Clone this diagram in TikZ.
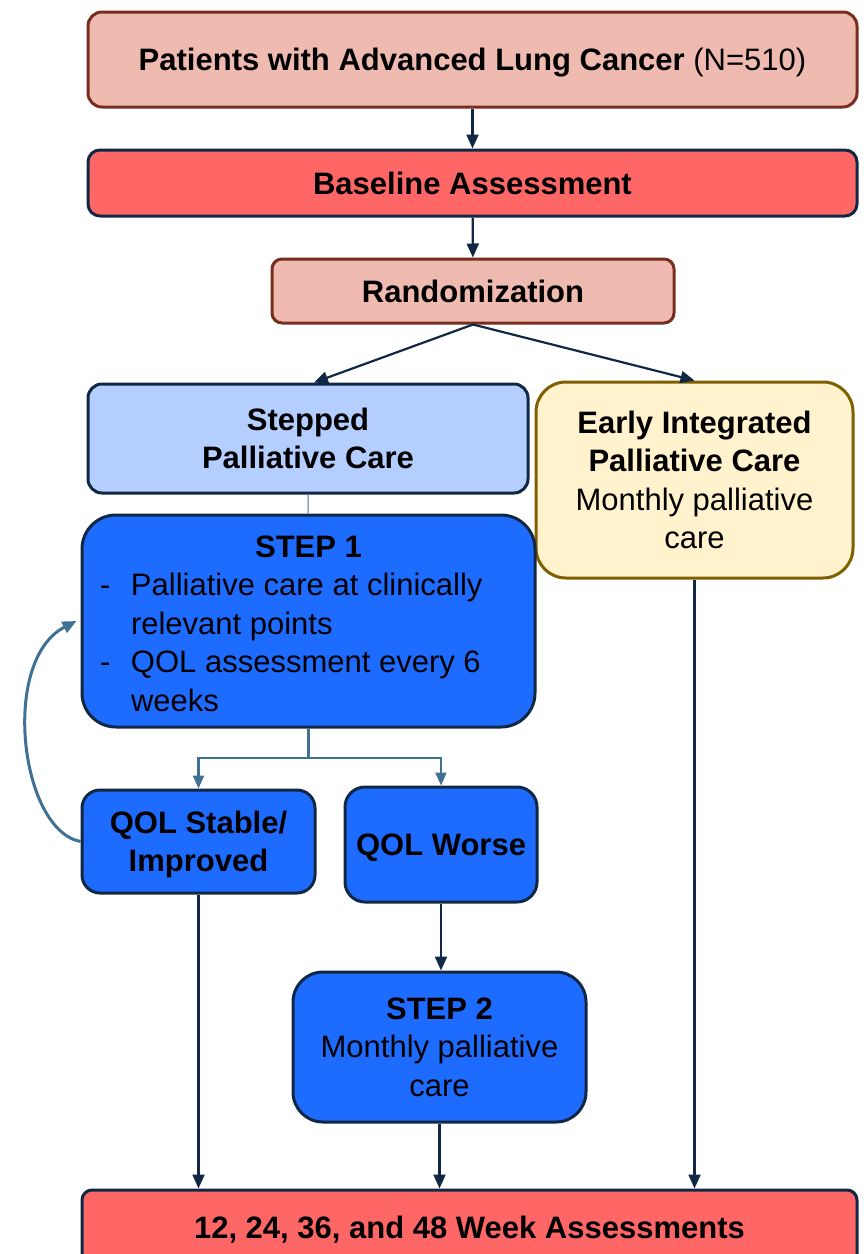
\documentclass[tikz,border=0pt]{standalone}
\usepackage{fontspec}
\setmainfont{Liberation Sans}
\usetikzlibrary{arrows.meta}
\definecolor{salmon}{RGB}{239,186,176}
\definecolor{brownline}{RGB}{120,45,30}
\definecolor{redfill}{RGB}{255,102,102}
\definecolor{navyline}{RGB}{16,40,68}
\definecolor{paleblue}{RGB}{179,206,255}
\definecolor{brightblue}{RGB}{30,107,255}
\definecolor{creamfill}{RGB}{255,242,204}
\definecolor{oliveline}{RGB}{127,96,0}
\definecolor{steelline}{RGB}{62,113,148}

\begin{document}
\begin{tikzpicture}[x=0.5pt, y=-0.5pt,
    box/.style={draw, line width=1.5pt, align=center, inner sep=0pt, text depth=0pt,
        font=\fontsize{15.5}{19.25}\selectfont},
    pinkbox/.style={box, fill=salmon, draw=brownline, rounded corners=7pt},
    redbox/.style={box, fill=redfill, draw=navyline, rounded corners=6pt},
    bluebox/.style={box, fill=brightblue, draw=navyline},
    arr/.style={-{Triangle[length=7pt,width=6pt]}, line width=1.1pt, draw=navyline},
    branch/.style={-{Triangle[length=6.5pt,width=5.5pt]}, line width=1.1pt, draw=steelline}]
    \clip (0,0) rectangle (866,1254);

    % Kopf
    \node[pinkbox, minimum width=384.5pt, minimum height=47.5pt] (patients) at (472.5,59.5)
        {\textbf{Patients with Advanced Lung Cancer} (N=510)};
    \node[redbox, minimum width=384.5pt, minimum height=33pt] (baseline) at (472.5,183)
        {\textbf{Baseline Assessment}};
    \node[pinkbox, rounded corners=5pt, minimum width=201pt, minimum height=32pt] (random) at (473,291)
        {\textbf{Randomization}};

    % Arme
    \node[box, fill=paleblue, draw=navyline, rounded corners=7pt,
        minimum width=220pt, minimum height=54.5pt] (stepped) at (308,438.5)
        {\textbf{Stepped}\\\textbf{Palliative Care}};
    \node[box, fill=creamfill, draw=oliveline, rounded corners=15pt,
        minimum width=158.5pt, minimum height=98pt] (early) at (694.5,480)
        {\textbf{Early Integrated}\\\textbf{Palliative Care}\\Monthly palliative\\care};

    % Stufen
    \node[bluebox, rounded corners=17pt, minimum width=226.5pt, minimum height=106pt] (step1) at (308.5,621)
        {\begin{tabular}[b]{@{}p{15.5pt}@{}p{193pt}@{}}
            \multicolumn{2}{c}{\bfseries STEP 1}\\
            - & Palliative care at clinically\\
              & relevant points\\
            - & QOL assessment every 6\\
              & weeks
        \end{tabular}};
    \node[bluebox, rounded corners=9pt, minimum width=116.5pt, minimum height=51.5pt] (stable) at (198.5,841.5)
        {\textbf{QOL Stable/}\\\textbf{Improved}};
    \node[bluebox, rounded corners=10pt, minimum width=96pt, minimum height=57.5pt] (worse) at (441,844.5)
        {\textbf{QOL Worse}};
    \node[bluebox, rounded corners=15pt, minimum width=146.5pt, minimum height=75pt] (step2) at (439.5,1047)
        {\textbf{STEP 2}\\Monthly palliative\\care};
    \node[redbox, rounded corners=5pt, minimum width=387.5pt, minimum height=37.5pt] (final) at (469.5,1227.5)
        {\textbf{12, 24, 36, and 48 Week Assessments}};

    % Pfeile
    \draw[arr] (patients) -- (baseline);
    \draw[arr] (baseline) -- (random);
    \draw[arr] (random.south) -- ([xshift=3pt]stepped.north);
    \draw[arr] (random.south) -- (early.north);
    \draw[steelline, line width=0.5pt] (stepped) -- (step1);

    \coordinate (split) at (308.5,758);
    \draw[branch] (step1.south) -- (split) -| (stable.north);
    \draw[branch] (split) -| (worse.north);
    \draw[arr] (worse.south) -- (worse.south |- step2.north);
    \draw[steelline, line width=1.5pt, -{Triangle[length=7pt,width=6pt]}]
        (stable.west) .. controls (20,830) and (0,660) .. ([xshift=-2pt]step1.west);

    \foreach \n in {stable, step2, early}
        \draw[arr] (\n.south) -- (\n.south |- final.north);
\end{tikzpicture}
\end{document}
